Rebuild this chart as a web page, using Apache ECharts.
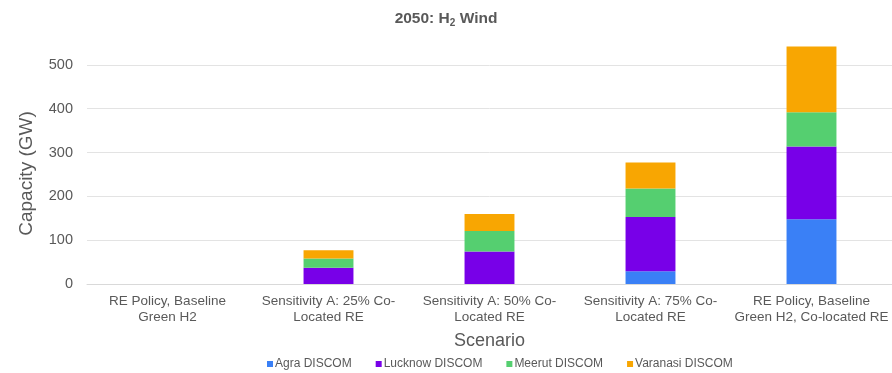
<!DOCTYPE html>
<html>
<head>
<meta charset="utf-8">
<script src="https://cdn.jsdelivr.net/npm/echarts@6/dist/echarts.min.js"></script>
<style>
  html, body { margin: 0; padding: 0; background: #ffffff; }
  #chart { width: 892px; height: 373px; }
</style>
</head>
<body>
<div id="chart"></div>
<script>
// Scenario categories (x axis)
const scenarios = [
  'RE Policy, Baseline\nGreen H2',
  'Sensitivity A: 25% Co-\nLocated RE',
  'Sensitivity A: 50% Co-\nLocated RE',
  'Sensitivity A: 75% Co-\nLocated RE',
  'RE Policy, Baseline\nGreen H2, Co-located RE'
];

// Wind capacity per DISCOM, GW
const agra     = [0, 0, 0, 29, 148];
const lucknow  = [0, 37, 74, 124, 166];
const meerut   = [0, 21, 47, 65, 78];
const varanasi = [0, 19, 39, 59, 150];

// Labelled y ticks; the axis runs a little past the last one
const yTicks = [0, 100, 200, 300, 400, 500];
const yTop = 550;

const seriesDefs = [
  { name: 'Agra DISCOM', data: agra, color: '#3a80f6' },
  { name: 'Lucknow DISCOM', data: lucknow, color: '#7800e8' },
  { name: 'Meerut DISCOM', data: meerut, color: '#55cf70' },
  { name: 'Varanasi DISCOM', data: varanasi, color: '#f8a602' }
];

const textGray = '#595959';
const font = 'Liberation Sans, Arial';
const chart = echarts.init(document.getElementById('chart'));

// one grid colour per labelled tick, transparent for the axis top
const gridColors = yTicks.map(() => '#e3e3e3').concat(['rgba(0,0,0,0)']);

chart.setOption({
  animation: false,
  backgroundColor: '#ffffff',
  title: {
    text: '{t|2050: H}{s|2}{t| Wind}',
    left: 'center',
    top: 5,
    textStyle: {
      rich: {
        t: { fontFamily: font, fontSize: 15.5, fontWeight: 'bold', color: textGray },
        s: { fontFamily: font, fontSize: 10, fontWeight: 'bold', color: textGray, padding: [8, 0, 0, 0] }
      }
    }
  },
  grid: { left: 87, right: 0, top: 43, bottom: 89 },
  legend: {
    bottom: -2,
    left: 262,
    itemWidth: 6,
    itemHeight: 6,
    itemGap: 24,
    icon: 'rect',
    textStyle: { fontFamily: font, fontSize: 12, color: textGray, padding: [0, 0, 0, -3] },
    data: seriesDefs.map(s => s.name)
  },
  xAxis: {
    type: 'category',
    data: scenarios,
    name: 'Scenario',
    nameLocation: 'middle',
    nameGap: 48,
    nameTextStyle: { fontFamily: font, fontSize: 18, color: textGray },
    axisLine: { show: true, lineStyle: { color: '#d9d9d9' } },
    axisTick: { show: false },
    axisLabel: {
      interval: 0,
      margin: 9,
      fontFamily: font,
      fontSize: 13.5,
      lineHeight: 16,
      color: textGray
    }
  },
  yAxis: {
    type: 'value',
    min: yTicks[0],
    max: yTop,
    interval: 100,
    name: 'Capacity (GW)',
    nameLocation: 'middle',
    nameGap: 51,
    nameTextStyle: { fontFamily: font, fontSize: 19, color: textGray, padding: [0, 20, 0, 0] },
    axisLine: { show: false },
    axisTick: { show: false },
    axisLabel: {
      margin: 14,
      showMaxLabel: false,
      fontFamily: font,
      fontSize: 14.5,
      color: textGray
    },
    splitLine: { lineStyle: { color: gridColors } }
  },
  series: seriesDefs.map(s => ({
    name: s.name,
    type: 'bar',
    stack: 'total',
    barWidth: '31%',
    data: s.data,
    itemStyle: { color: s.color }
  }))
});
</script>
</body>
</html>
